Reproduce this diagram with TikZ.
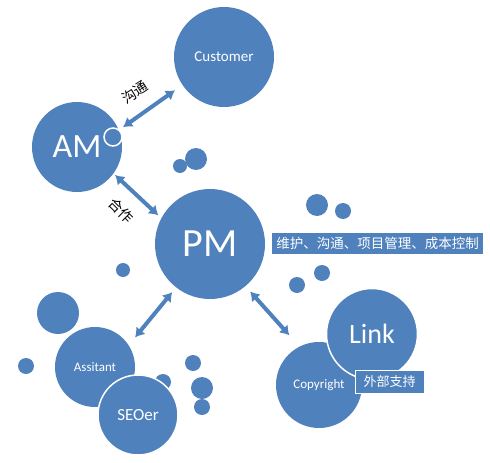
\documentclass[tikz,border=0pt]{standalone}
\usepackage{fontspec}
\setmainfont{Carlito}
\newfontfamily\cjk{Noto Sans CJK SC}
\usepackage{tikz}
\usetikzlibrary{arrows.meta,positioning}
\definecolor{myblue}{RGB}{79,129,189}
\definecolor{myedge}{RGB}{165,188,215}

\begin{document}
\begin{tikzpicture}[
  x=1pt, y=-1pt,
  bubble/.style={
    circle,
    fill=myblue,
    text=white,
    inner sep=0pt,
    minimum size=#1
    },
  rimmed/.style={draw=white, line width=1.5pt},
  fsize/.style={font=\fontsize{#1}{#1}\selectfont},
  cjksize/.style={font=\cjk\fontsize{#1}{#1}\selectfont},
  dblarrow/.style={
    draw=myblue,
    line width=4pt,
    {Latex[length=9pt,width=12pt]}-{Latex[length=9pt,width=12pt]}
    },
  tag/.style={fill=myblue, text=white, inner sep=0pt}
]
\useasboundingbox (0,0) rectangle (490,463);

% small bubbles
\foreach \px/\py/\d [count=\i from 1] in {180/166/14, 196/159/22, 317/205/22, 343/211/16, 322/273/16, 297/285/16, 123/270/14, 58/313/42, 26/366/16, 193/363/16, 202/388/22, 202/407/16, 163/382/16}
  \node[bubble=\d pt] (dot\i) at (\px,\py) {};

% main bubbles
\node[bubble=100pt, fsize=15] (cust) at (224,57) {Customer};
\node[bubble=90pt, fsize=34] (am) at (77,147) {AM};
\node[bubble=18pt, rimmed] (amring) at (113,137) {};
\node[bubble=110pt, fsize=40] (pm) at (210,244) {PM};
\node[bubble=80pt, fsize=13] (asst) at (95,367) {Assitant};
\node[bubble=80pt, fsize=17, rimmed] (seo) at (138,415) {SEOer};
\node[bubble=86pt, fsize=13] (copy) at (319,385) {Copyright};
\node[bubble=91pt, fsize=28, rimmed] (link) at (372,334) {Link};

% tags
\node[tag, cjksize=13.5, minimum width=211pt, minimum height=21pt] (duty) at (377.5,243.5) {维护、沟通、项目管理、成本控制};
\node[tag, cjksize=13, draw=white, line width=1pt, minimum width=69pt, minimum height=23pt] (ext) at (389.5,381.5) {外部支持};

% arrows
\draw[dblarrow, shorten <=5pt, shorten >=9pt] (am.22) -- (cust.214);
\draw[dblarrow, shorten <=2pt, shorten >=4pt] (am.-36) -- (pm.152);
\draw[dblarrow, shorten <=6pt, shorten >=10pt] (pm.232) -- (asst.33);
\draw[dblarrow, shorten <=7pt, shorten >=15pt] (pm.-50) -- (copy.117);

% arrow labels
\node[cjksize=14, rotate=33] (talk) at (135,92) {沟通};
\node[cjksize=14, rotate=-45] (coop) at (121,211) {合作};
\end{tikzpicture}
\end{document}
